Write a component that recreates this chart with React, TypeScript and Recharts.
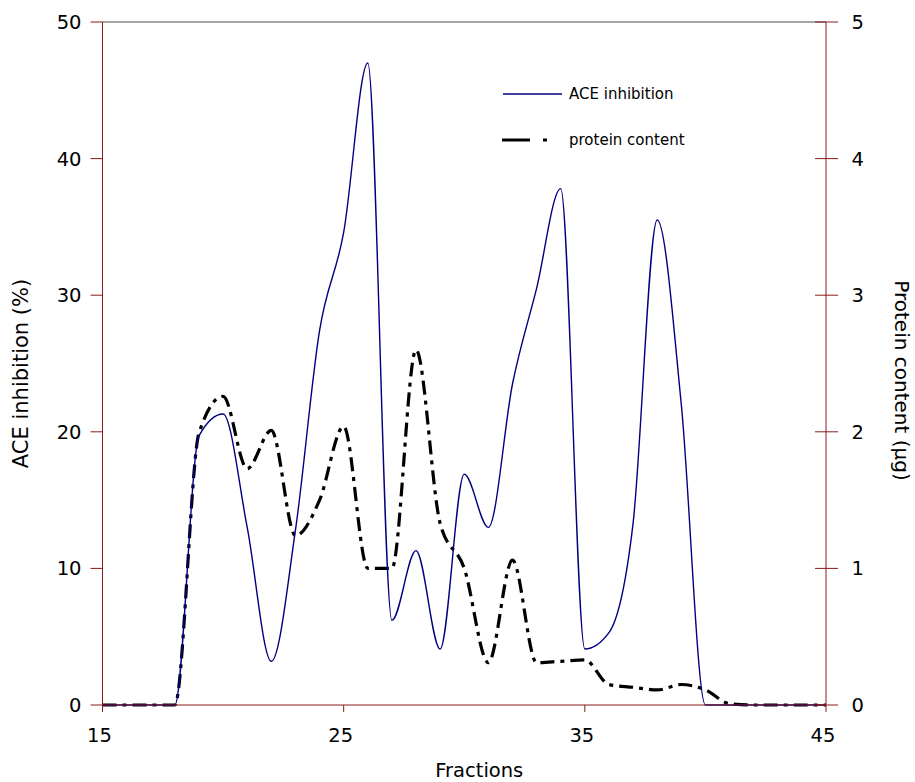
import { LineChart, Line, XAxis, YAxis, ReferenceLine, Label } from 'recharts';

const fractions = [15, 16, 17, 18, 19, 20, 21, 22, 23, 24, 25, 26, 27, 28, 29, 30, 31, 32, 33, 34, 35, 36, 37, 38, 39, 40, 41, 42, 43, 44, 45];
const aceInhibition = [0, 0, 0, 0, 19.7, 21.3, 13, 3.2, 12.8, 27.4, 34.6, 47, 6.2, 11.3, 4.1, 16.9, 13, 23.5, 30.5, 37.8, 4.1, 5.3, 13.3, 35.5, 22, 0, 0, 0, 0, 0, 0];
const proteinContent = [0, 0, 0, 0, 1.99, 2.26, 1.73, 2.01, 1.24, 1.5, 2.04, 1.0, 1.0, 2.6, 1.33, 1.0, 0.31, 1.06, 0.31, 0.32, 0.33, 0.15, 0.13, 0.11, 0.15, 0.11, 0.01, 0, 0, 0, 0];

const xTicks = [15, 25, 35, 45];
const leftTicks = [0, 10, 20, 30, 40, 50];
const rightTicks = [0, 1, 2, 3, 4, 5];

const data = fractions.map((f, i) => ({
  fraction: f,
  ace: aceInhibition[i],
  protein: proteinContent[i],
}));

const AXIS = '#8b1a1a';
const FONT = '"DejaVu Sans", Verdana, sans-serif';
const TICK_FS = 19.5;
const R_TICK = 12;
const R_MARGIN = 13.5;

// right axis ticks cross the axis line, so draw the inner half by hand
function RightTick(props: any) {
  const { x, y, payload } = props;
  const axisX = x - R_TICK - R_MARGIN;
  return (
    <g>
      <line x1={axisX - 11} x2={axisX} y1={y} y2={y} stroke={AXIS} />
      <text x={x} y={y} dy="0.355em" textAnchor="start" fontSize={TICK_FS} fill="#000" fontFamily={FONT}>
        {payload.value}
      </text>
    </g>
  );
}

function LeftTitle(props: any) {
  const vb = props.viewBox;
  const x = vb.x + 21;
  const y = vb.y + vb.height / 2 + 10;
  return (
    <text x={x} y={y} dy="0.355em" transform={`rotate(-90 ${x} ${y})`} textAnchor="middle" fontSize={21} fill="#000" fontFamily={FONT}>
      ACE inhibition (%)
    </text>
  );
}

function RightTitle(props: any) {
  const vb = props.viewBox;
  const x = vb.x + vb.width - 13;
  const y = vb.y + vb.height / 2 + 17;
  return (
    <text x={x} y={y} dy="0.355em" transform={`rotate(90 ${x} ${y})`} textAnchor="middle" fontSize={20} fill="#000" fontFamily={FONT}>
      Protein content (µg)
    </text>
  );
}

function BottomTitle(props: any) {
  const vb = props.viewBox;
  return (
    <text x={vb.x + vb.width / 2 + 15} y={vb.y + vb.height - 5} textAnchor="middle" fontSize={19.5} fill="#000" fontFamily={FONT}>
      Fractions
    </text>
  );
}

function ChartLegend() {
  return (
    <div style={{ position: 'absolute', left: 500, top: 84, fontFamily: FONT, fontSize: 15, color: '#000', lineHeight: '20px' }}>
      <div style={{ display: 'flex', alignItems: 'center', height: 20 }}>
        <svg width={69} height={20}>
          <line x1={3} x2={62} y1={10} y2={10} stroke="#000080" strokeWidth={1.3} />
        </svg>
        <span>ACE inhibition</span>
      </div>
      <div style={{ display: 'flex', alignItems: 'center', height: 20, marginTop: 26 }}>
        <svg width={69} height={20}>
          <line x1={2} x2={30} y1={10} y2={10} stroke="#000" strokeWidth={3} />
          <line x1={43} x2={47} y1={10} y2={10} stroke="#000" strokeWidth={3} />
        </svg>
        <span>protein content</span>
      </div>
    </div>
  );
}

export default function App() {
  return (
    <div style={{ position: 'absolute', left: 0, top: 0, width: 915, height: 782, background: '#fff' }}>
      <LineChart width={915} height={782} data={data} margin={{ top: 22, right: 0, bottom: 0, left: 0 }}>
        <XAxis
          dataKey="fraction"
          type="number"
          domain={[15, 45]}
          ticks={xTicks}
          height={77}
          stroke={AXIS}
          tickSize={7}
          tickMargin={16}
          tick={{ fontSize: TICK_FS, fill: '#000', fontFamily: FONT, dx: -3 }}
        >
          <Label content={<BottomTitle />} />
        </XAxis>
        <YAxis
          yAxisId="left"
          domain={[0, 50]}
          ticks={leftTicks}
          width={102.5}
          stroke={AXIS}
          tickSize={12}
          tickMargin={9}
          tick={{ fontSize: TICK_FS, fill: '#000', fontFamily: FONT }}
        >
          <Label content={<LeftTitle />} />
        </YAxis>
        <YAxis
          yAxisId="right"
          orientation="right"
          domain={[0, 5]}
          ticks={rightTicks}
          width={89}
          stroke={AXIS}
          tickSize={R_TICK}
          tickMargin={R_MARGIN}
          tick={<RightTick />}
        >
          <Label content={<RightTitle />} />
        </YAxis>
        <ReferenceLine yAxisId="left" y={50} stroke="#888" strokeWidth={1.5} />
        <Line
          yAxisId="right"
          dataKey="protein"
          type="monotone"
          stroke="#000"
          strokeWidth={3.2}
          strokeDasharray="14 6 4 6"
          dot={false}
          isAnimationActive={false}
        />
        <Line
          yAxisId="left"
          dataKey="ace"
          type="monotone"
          stroke="#000080"
          strokeWidth={1.4}
          dot={false}
          isAnimationActive={false}
        />
      </LineChart>
      <ChartLegend />
    </div>
  );
}
